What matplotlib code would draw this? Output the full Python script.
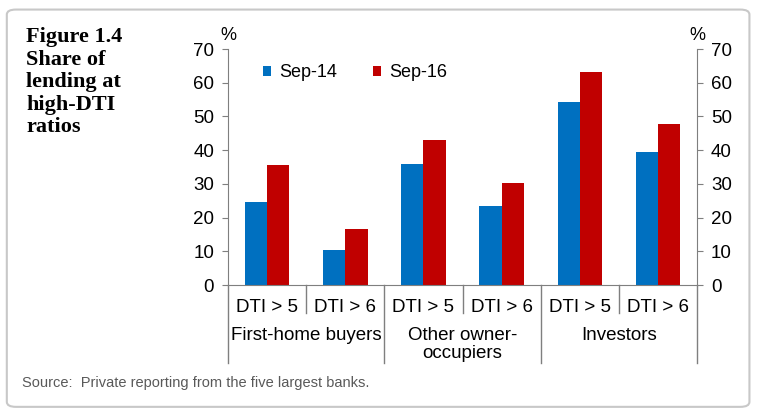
import numpy as np
import matplotlib.pyplot as plt
from matplotlib.patches import FancyBboxPatch

# Datos (% de préstamos con DTI alto)
categorias = ["DTI > 5", "DTI > 6", "DTI > 5", "DTI > 6", "DTI > 5", "DTI > 6"]
grupos = ["First-home buyers", "Other owner-\noccupiers", "Investors"]
sep14 = [24.5, 10.5, 36.0, 23.5, 54.2, 39.5]
sep16 = [35.6, 16.5, 43.0, 30.3, 63.1, 47.8]
series = ["Sep-14", "Sep-16"]
yticks = [0, 10, 20, 30, 40, 50, 60, 70]

azul = "#0070C0"
rojo = "#C00000"
gris_eje = "#7f7f7f"

plt.rcParams["font.family"] = ["Liberation Sans", "DejaVu Sans"]

fig = plt.figure(figsize=(7.57, 4.16), dpi=100)

# marco redondeado de la figura (detrás de todo)
marco = FancyBboxPatch((0.009, 0.022), 0.981, 0.955, boxstyle="round,pad=0,rounding_size=0.012",
                       transform=fig.transFigure, facecolor="white", edgecolor="#c8c8c8",
                       linewidth=1.5, zorder=-10)
fig.patches.append(marco)

ax = fig.add_axes([0.3012, 0.3149, 0.6196, 0.5673])
ax.set_facecolor("none")

x = np.arange(len(categorias)) + 0.5
w = 0.285
b1 = ax.bar(x - w / 2, sep14, width=w, color=azul, label=series[0])
b2 = ax.bar(x + w / 2, sep16, width=w, color=rojo, label=series[1])

ax.set_xlim(0, len(categorias))
ax.set_ylim(0, 70)
ax.set_yticks(yticks)
ax.set_xticks([])
for s in ["top", "right"]:
    ax.spines[s].set_visible(False)
ax.spines["left"].set_color(gris_eje)
ax.spines["bottom"].set_color(gris_eje)
ax.tick_params(axis="y", labelsize=13.5, direction="out", length=4, color=gris_eje, pad=6)

ax2 = ax.twinx()
ax2.set_ylim(0, 70)
ax2.set_yticks(yticks)
for s in ["top", "left", "bottom"]:
    ax2.spines[s].set_visible(False)
ax2.spines["right"].set_color(gris_eje)
ax2.tick_params(axis="y", labelsize=13.5, direction="out", length=4, color=gris_eje, pad=6)

ax.text(0, 1.059, "%", transform=ax.transAxes, ha="center", va="center", fontsize=13)
ax.text(1, 1.059, "%", transform=ax.transAxes, ha="center", va="center", fontsize=13)

# eje de categorías con separadores
tr = ax.get_xaxis_transform()
for i in range(len(categorias) + 1):
    largo = -0.33 if i % 2 == 0 else -0.119
    ax.plot([i, i], [0, largo], transform=tr, color=gris_eje, lw=1, clip_on=False)
for xi, lab in zip(x, categorias):
    ax.text(xi, -0.095, lab, transform=tr, ha="center", va="center", fontsize=13.5)
for g, lab in enumerate(grupos):
    ax.text(2 * g + 1, -0.178, lab, transform=tr, ha="center", va="top", fontsize=13.5, linespacing=1.1)

ax.legend(handles=[b1, b2], loc="center left", bbox_to_anchor=(0.074, 0.9), ncol=2, frameon=False,
          fontsize=13, handlelength=0.45, handleheight=0.45, handletextpad=0.45,
          columnspacing=2.0, borderpad=0, borderaxespad=0)

fig.text(0.035, 0.935, "Figure 1.4\nShare of\nlending at\nhigh-DTI\nratios", ha="left", va="top",
         family="Liberation Serif", fontweight="bold", fontsize=16, linespacing=1.17)
fig.text(0.029, 0.079, "Source:  Private reporting from the five largest banks.", ha="left", va="center",
         fontsize=10.5, color="#595959")

fig.savefig("out.png", dpi=100)
